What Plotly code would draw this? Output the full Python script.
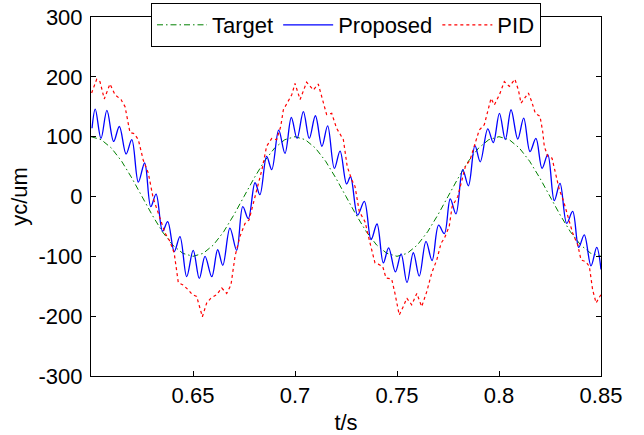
import plotly.graph_objects as go

# ---- data ----
t_target = [0.600, 0.605, 0.610, 0.615, 0.620, 0.625, 0.630, 0.635, 0.640, 0.645,
            0.650, 0.655, 0.660, 0.665, 0.670, 0.675, 0.680, 0.685, 0.690, 0.695,
            0.700, 0.705, 0.710, 0.715, 0.720, 0.725, 0.730, 0.735, 0.740, 0.745,
            0.750, 0.755, 0.760, 0.765, 0.770, 0.775, 0.780, 0.785, 0.790, 0.795,
            0.800, 0.805, 0.810, 0.815, 0.820, 0.825, 0.830, 0.835, 0.840, 0.845, 0.850]
y_target = [100, 95, 81, 59, 31, 0, -31, -59, -81, -95,
            -100, -95, -81, -59, -31, 0, 31, 59, 81, 95,
            100, 95, 81, 59, 31, 0, -31, -59, -81, -95,
            -100, -95, -81, -59, -31, 0, 31, 59, 81, 95,
            100, 95, 81, 59, 31, 0, -31, -59, -81, -95, -100]

t_proposed = [0.6005, 0.6021, 0.6049, 0.6078, 0.6111, 0.6139, 0.6172, 0.6200, 0.6232, 0.6263,
              0.6293, 0.6319, 0.6351, 0.6376, 0.6408, 0.6436, 0.6469, 0.6501, 0.6531, 0.6559,
              0.6592, 0.6621, 0.6646, 0.6681, 0.6714, 0.6744, 0.6771, 0.6804, 0.6828, 0.6861,
              0.6886, 0.6920, 0.6951, 0.6982, 0.7010, 0.7041, 0.7070, 0.7100, 0.7132, 0.7160,
              0.7193, 0.7221, 0.7253, 0.7272, 0.7307, 0.7340, 0.7373, 0.7402, 0.7433, 0.7459,
              0.7492, 0.7520, 0.7549, 0.7580, 0.7609, 0.7642, 0.7672, 0.7704, 0.7732, 0.7761,
              0.7789, 0.7822, 0.7850, 0.7882, 0.7908, 0.7945, 0.7972, 0.8002, 0.8031, 0.8059,
              0.8092, 0.8121, 0.8152, 0.8181, 0.8211, 0.8239, 0.8271, 0.8299, 0.8332, 0.8361,
              0.8391, 0.8418, 0.8451, 0.8479, 0.8500]
y_proposed = [114, 146, 97, 144, 92, 117, 71, 95, 24, 56,
              -17, 4, -58, -42, -92, -67, -134, -90, -137, -100,
              -134, -89, -115, -53, -90, -17, -37, 23, 3, 67,
              45, 111, 72, 132, 97, 142, 97, 135, 84, 118,
              47, 76, 21, 33, -31, -8, -72, -46, -111, -86,
              -126, -96, -144, -94, -133, -75, -107, -48, -62, -4,
              -29, 45, 18, 85, 58, 113, 90, 139, 95, 145,
              96, 131, 75, 97, 47, 70, -7, 22, -45, -25,
              -85, -64, -116, -85, -122]

t_pid = [0.6003, 0.6028, 0.6044, 0.6065, 0.6093, 0.6118, 0.6147, 0.6167, 0.6191, 0.6212,
         0.6232, 0.6256, 0.6281, 0.6305, 0.6330, 0.6363, 0.6387, 0.6408, 0.6428, 0.6452,
         0.6477, 0.6497, 0.6518, 0.6546, 0.6567, 0.6588, 0.6616, 0.6641, 0.6665, 0.6686,
         0.6706, 0.6730, 0.6755, 0.6775, 0.6796, 0.6820, 0.6838, 0.6861, 0.6886, 0.6910,
         0.6930, 0.6943, 0.6967, 0.6984, 0.7000, 0.7025, 0.7057, 0.7090, 0.7114, 0.7139,
         0.7155, 0.7180, 0.7204, 0.7237, 0.7256, 0.7278, 0.7294, 0.7315, 0.7343, 0.7368,
         0.7392, 0.7408, 0.7430, 0.7446, 0.7474, 0.7490, 0.7511, 0.7531, 0.7548, 0.7572,
         0.7597, 0.7621, 0.7646, 0.7670, 0.7695, 0.7716, 0.7732, 0.7756, 0.7770, 0.7798,
         0.7814, 0.7835, 0.7858, 0.7879, 0.7903, 0.7928, 0.7945, 0.7961, 0.7977, 0.8002,
         0.8026, 0.8051, 0.8078, 0.8095, 0.8108, 0.8124, 0.8144, 0.8160, 0.8178, 0.8201,
         0.8214, 0.8222, 0.8239, 0.8260, 0.8276, 0.8296, 0.8315, 0.8337, 0.8361, 0.8386,
         0.8402, 0.8426, 0.8443, 0.8459, 0.8476, 0.8489, 0.8500]
y_pid = [173, 196, 192, 163, 188, 170, 162, 150, 107, 105,
         95, 61, 39, -3, -28, -61, -75, -95, -144, -148,
         -156, -164, -167, -201, -178, -170, -164, -153, -162, -148,
         -100, -67, -45, -39, -11, 22, 45, 84, 97, 95,
         117, 145, 159, 170, 189, 162, 191, 178, 188, 159,
         137, 139, 114, 95, 50, 28, 17, -25, -42, -78,
         -111, -113, -117, -136, -138, -162, -198, -184, -170, -181,
         -162, -184, -159, -128, -106, -78, -70, -50, -17, 0,
         22, 50, 61, 84, 111, 120, 142, 164, 153, 170,
         192, 184, 196, 178, 156, 164, 173, 159, 139, 134,
         109, 84, 67, 64, 39, 11, -6, -33, -61, -81,
         -106, -109, -117, -156, -178, -170, -164]

x_ticks = [0.65, 0.70, 0.75, 0.80, 0.85]
x_ticklabels = ["0.65", "0.7", "0.75", "0.8", "0.85"]
y_ticks = [-300, -200, -100, 0, 100, 200, 300]
y_ticklabels = ["-300", "-200", "-100", "0", "100", "200", "300"]

FONT = "Liberation Sans, Arial, sans-serif"

fig = go.Figure()
fig.add_trace(go.Scatter(x=t_target, y=y_target, mode="lines", name="Target",
                         line=dict(color="#008000", width=1, dash="6px,3px,1.5px,3px")))
fig.add_trace(go.Scatter(x=t_proposed, y=y_proposed, mode="lines", name="Proposed",
                         line=dict(color="#0000ff", width=1.3, shape="spline", smoothing=1.0)))
fig.add_trace(go.Scatter(x=t_pid, y=y_pid, mode="lines", name="PID",
                         line=dict(color="#ff0000", width=1.2, dash="dot")))

axis_common = dict(showgrid=False, zeroline=False, showline=True, linecolor="black",
                   linewidth=1, mirror="ticks", ticks="inside", ticklen=5,
                   tickcolor="black", tickwidth=1, automargin=False,
                   tickfont=dict(family=FONT, size=22, color="black"))

fig.update_xaxes(range=[0.6, 0.85], tickvals=x_ticks, ticktext=x_ticklabels,
                 title=dict(text="t/s", font=dict(family=FONT, size=22, color="black"), standoff=9),
                 **axis_common)
fig.update_yaxes(range=[-300, 300], tickvals=y_ticks, ticktext=y_ticklabels,
                 ticklabelstandoff=3,
                 title=dict(text="yc/um", font=dict(family=FONT, size=22, color="black"), standoff=4),
                 **axis_common)

fig.update_layout(
    width=644, height=435,
    margin=dict(l=91, r=43, t=17, b=59, autoexpand=False),
    plot_bgcolor="white", paper_bgcolor="white",
    font=dict(family=FONT, size=22, color="black"),
    legend=dict(orientation="h", x=0.5, xanchor="center", y=1.039, yanchor="top",
                bgcolor="white", bordercolor="black", borderwidth=1,
                font=dict(family=FONT, size=22, color="black"),
                itemwidth=50, tracegroupgap=0),
)

fig.write_html("out.html", config={"displayModeBar": False},
               post_script="document.body.style.margin='0px';")
